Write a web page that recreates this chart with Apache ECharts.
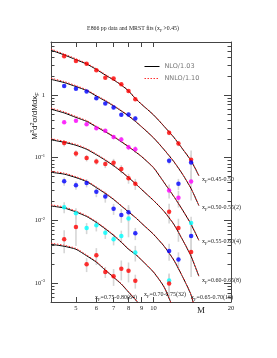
<!DOCTYPE html>
<html><head><meta charset="utf-8">
<script src="https://cdn.jsdelivr.net/npm/echarts@6/dist/echarts.min.js"></script>
<style>html,body{margin:0;padding:0;background:#fff}#c{width:277px;height:358px}</style>
</head><body><div id="c"></div>
<script>
// ---- data ----
const massBins = [4.5, 5.0, 5.5, 6.0, 6.5, 7.0, 7.5, 8.0, 8.5, 11.5, 12.5, 14.0];
const binLabels = ['0.45-0.50', '0.50-0.55(2)', '0.55-0.60(4)', '0.60-0.65(8)', '0.65-0.70(16)', '0.70-0.75(32)', '0.75-0.80(64)'];

const xsec045 = [4.16, 3.47, 3.14, 2.49, 1.88, 1.84, 1.48, 1.16, 0.855, 0.249, 0.169, 0.093];
const xsec050 = [1.39, 1.26, 1.14, 0.886, 0.733, 0.629, 0.482, 0.49, 0.421, 0.0896, 0.0383, 0.0842];
const xsec055 = [0.369, 0.389, 0.343, 0.296, 0.270, 0.214, 0.195, 0.147, 0.136, 0.0299, 0.0229, 0.0416];
const xsec060 = [0.171, 0.117, 0.0989, 0.0873, 0.0794, 0.0834, 0.0662, 0.0469, 0.0383, 0.0137, 0.0076, 0.00314];
const xsec065 = [0.042, 0.0363, 0.0396, 0.0286, 0.024, 0.0153, 0.0122, 0.0135, 0.00622, 0.00326, 0.00238, 0.00563];
const xsec070 = [0.01626, 0.01306, 0.00755, 0.00834, 0.00634, 0.00499, 0.00563, 0.01076, 0.00307, 0.0011, null, 0.00912];
const xsec075 = [0.00499, 0.00783, 0.002, 0.00278, 0.00151, 0.00129, 0.0017, 0.00158, 0.00109, 0.00099, null, null];

// relative uncertainties
const err045 = [0.03, 0.03, 0.03, 0.03, 0.03, 0.03, 0.04, 0.04, 0.05, 0.08, 0.1, 0.2];
const err050 = [0.04, 0.04, 0.04, 0.05, 0.05, 0.06, 0.07, 0.08, 0.09, 0.12, 0.2, 0.55];
const err055 = [0.06, 0.06, 0.06, 0.07, 0.07, 0.08, 0.1, 0.1, 0.12, 0.25, 0.3, 0.5];
const err060 = [0.12, 0.12, 0.12, 0.12, 0.14, 0.15, 0.15, 0.18, 0.2, 0.35, 0.4, 0.6];
const err065 = [0.15, 0.15, 0.15, 0.18, 0.2, 0.2, 0.25, 0.3, 0.22, 0.3, 0.3, 0.5];
const err070 = [0.2, 0.2, 0.2, 0.2, 0.2, 0.2, 0.22, 0.5, 0.28, 0.3, null, 0.25];
const err075 = [0.4, 0.5, 0.25, 0.3, 0.2, 0.3, 0.35, 0.35, 0.25, 0.4, null, null];

const theoryMass = [4, 4.5, 5, 5.5, 6, 6.5, 7, 7.5, 8, 8.5, 9, 10, 11, 12, 13, 14, 15];
const nlo045 = [5.18, 4.36, 3.66, 3.12, 2.56, 2.08, 1.74, 1.44, 1.16, 0.88, 0.707, 0.482, 0.316, 0.211, 0.136, 0.0896, 0.0518];
const nlo050 = [1.775, 1.579, 1.364, 1.179, 0.964, 0.803, 0.669, 0.557, 0.464, 0.380, 0.310, 0.208, 0.134, 0.0864, 0.0537, 0.0322, 0.0173];
const nlo055 = [0.593, 0.518, 0.439, 0.380, 0.310, 0.259, 0.216, 0.1795, 0.1496, 0.1245, 0.1037, 0.0694, 0.0401, 0.0240, 0.0144, 0.00864, 0.00482];
const nlo060 = [0.193, 0.176, 0.158, 0.1364, 0.1116, 0.0912, 0.0746, 0.0600, 0.0482, 0.0387, 0.0310, 0.0208, 0.0139, 0.00864, 0.00482, 0.00268, 0.00129];
const nlo065 = [0.0585, 0.0547, 0.0482, 0.0416, 0.0334, 0.0269, 0.0216, 0.0170, 0.01364, 0.01116, 0.00896, 0.0060, 0.00387, 0.00232, 0.00124, 0.000645, 0.00021];
const nlo070 = [0.0170, 0.01578, 0.01364, 0.01157, 0.00929, 0.00733, 0.00578, 0.00448, 0.00347, 0.00289, 0.00232, 0.0015, 0.000865, 0.000373];
const nlo075 = [0.00416, 0.00387, 0.00347, 0.00273, 0.00216, 0.00161, 0.00124, 0.000964, 0.00072, 0.000547, 0.000416];

const nnlo045 = [5.40, 4.52, 3.78, 3.21, 2.62, 2.13, 1.77, 1.46, 1.18, 0.89, 0.714, 0.486, 0.318, 0.212, 0.137, 0.090, 0.052];
const nnlo050 = [1.85, 1.64, 1.41, 1.215, 0.99, 0.822, 0.683, 0.567, 0.471, 0.385, 0.313, 0.210, 0.135, 0.087, 0.054, 0.0323, 0.0174];
const nnlo055 = [0.618, 0.538, 0.454, 0.391, 0.318, 0.265, 0.220, 0.1825, 0.1518, 0.1262, 0.105, 0.0701, 0.0404, 0.0242, 0.0145, 0.0087, 0.00485];
const nnlo060 = [0.201, 0.183, 0.163, 0.1403, 0.1145, 0.0933, 0.0761, 0.0611, 0.0490, 0.0393, 0.0314, 0.0210, 0.0140, 0.0087, 0.00485, 0.0027, 0.0013];
const nnlo065 = [0.0609, 0.0568, 0.0498, 0.0428, 0.0343, 0.0275, 0.0220, 0.0173, 0.01385, 0.0113, 0.00906, 0.00606, 0.0039, 0.00234, 0.00125, 0.00065, 0.00021];
const nnlo070 = [0.0177, 0.0164, 0.0141, 0.0119, 0.00954, 0.0075, 0.0059, 0.00456, 0.00353, 0.00293, 0.00235, 0.00152, 0.00087, 0.000376];
const nnlo075 = [0.00433, 0.00402, 0.00358, 0.00281, 0.00221, 0.00165, 0.00126, 0.00098, 0.00073, 0.000553, 0.00042];

const xTickValues = [5, 6, 7, 8, 9, 10, 20];
const xTickLabels = ['5', '6', '7', '8', '9', '10', '20'];
const yTickValues = [0.001, 0.01, 0.1, 1];
const yTickLabels = ['{b|10}{e|-3}', '{b|10}{e|-2}', '{b|10}{e|-1}', '{b|1}'];
const yMinorTicks = [0.0006, 0.0007, 0.0008, 0.0009, 0.002, 0.003, 0.004, 0.005, 0.006, 0.007, 0.008, 0.009,
  0.02, 0.03, 0.04, 0.05, 0.06, 0.07, 0.08, 0.09, 0.2, 0.3, 0.4, 0.5, 0.6, 0.7, 0.8, 0.9, 2, 3, 4, 5, 6, 7];

const SERIF = 'Liberation Serif';
const dataSets = [
  {v: xsec045, e: err045, nlo: nlo045, nnlo: nnlo045, color: '#ff0000'},
  {v: xsec050, e: err050, nlo: nlo050, nnlo: nnlo050, color: '#0000ff'},
  {v: xsec055, e: err055, nlo: nlo055, nnlo: nnlo055, color: '#ff00ff'},
  {v: xsec060, e: err060, nlo: nlo060, nnlo: nnlo060, color: '#ff0000'},
  {v: xsec065, e: err065, nlo: nlo065, nnlo: nnlo065, color: '#0000ff'},
  {v: xsec070, e: err070, nlo: nlo070, nnlo: nnlo070, color: '#00ffff'},
  {v: xsec075, e: err075, nlo: nlo075, nnlo: nnlo075, color: '#ff0000'}
];

const series = [];
// error bars
const errData = [];
dataSets.forEach(d => d.v.forEach((v, i) => {
  if (v == null) return;
  const f = d.e[i];
  errData.push([massBins[i], v, v * Math.max(1 - f, 0.02), v * (1 + f)]);
}));
series.push({
  type: 'custom', clip: true, z: 1,
  dimensions: ['m', 'v', 'lo', 'hi'], encode: {x: 0, y: 1},
  data: errData,
  renderItem: (params, api) => {
    const p1 = api.coord([api.value(0), api.value(3)]);
    const p2 = api.coord([api.value(0), api.value(2)]);
    return {type: 'line', shape: {x1: p1[0], y1: p1[1], x2: p2[0], y2: p2[1]},
      style: {stroke: '#d6d6d6', lineWidth: 1.6}};
  }
});
dataSets.forEach(d => {
  const curve = arr => arr.map((v, i) => [theoryMass[i], v]);
  series.push({type: 'line', name: 'NLO/1.03', data: curve(d.nlo), symbol: 'none', clip: true, z: 2,
    lineStyle: {color: '#000', width: 1}, itemStyle: {color: '#000'}, smooth: 0.2});
  series.push({type: 'line', name: 'NNLO/1.10', data: curve(d.nnlo), symbol: 'none', clip: true, z: 3,
    lineStyle: {color: '#ff3030', width: 1, type: [1.5, 1.5]}, itemStyle: {color: '#ff3030'}, smooth: 0.2});
});
dataSets.forEach(d => {
  series.push({type: 'scatter', data: d.v.map((v, i) => v == null ? null : [massBins[i], v]).filter(p => p),
    symbol: 'circle', symbolSize: 4.5, z: 5, itemStyle: {color: d.color}});
});

const sub = {fontSize: 4.5, fontFamily: SERIF, verticalAlign: 'bottom', lineHeight: 9, padding: [3, 0, 0, 0]};
const lab = (txt, x, y) => ({
  type: 'text', left: x, top: y,
  style: {text: '{a|x}{s|F}{a|=' + txt + '}', fill: '#222',
    rich: {a: {fontSize: 6, fontFamily: SERIF, fill: '#222', lineHeight: 9}, s: Object.assign({fill: '#222'}, sub)}}
});

const axisCol = '#444';
const option = {
  animation: false,
  backgroundColor: '#fff',
  grid: {left: 51, top: 42, right: 46, bottom: 56, containLabel: false},
  legend: {
    orient: 'vertical', left: 139, top: 58, itemWidth: 15, itemHeight: 8, itemGap: 5,
    data: ['NLO/1.03', 'NNLO/1.10'],
    itemStyle: {opacity: 0},
    lineStyle: {width: 1},
    textStyle: {fontFamily: 'DejaVu Sans', fontSize: 6.5, color: '#777'}
  },
  xAxis: [
    {type: 'log', logBase: 10, min: 4, max: 20, position: 'bottom',
      axisLine: {show: true, lineStyle: {color: axisCol, width: 1}},
      axisTick: {show: true, inside: true, length: 5, customValues: xTickValues, lineStyle: {color: axisCol}},
      axisLabel: {show: true, customValues: xTickValues, margin: 3, fontFamily: SERIF, fontSize: 6.5, color: '#222',
        formatter: v => xTickLabels[xTickValues.indexOf(Math.round(v))]},
      splitLine: {show: false}, minorTick: {show: false}},
    {type: 'log', logBase: 10, min: 4, max: 20, position: 'top',
      axisLine: {show: true, lineStyle: {color: axisCol, width: 1}},
      axisTick: {show: true, inside: true, length: 5, customValues: xTickValues, lineStyle: {color: axisCol}},
      axisLabel: {show: false}, splitLine: {show: false}}
  ],
  yAxis: [
    {type: 'log', logBase: 10, min: 0.0005, max: 7, position: 'left',
      axisLine: {show: true, lineStyle: {color: axisCol, width: 1}},
      axisTick: {show: true, inside: true, length: 7, customValues: yTickValues, lineStyle: {color: axisCol}},
      axisLabel: {show: true, customValues: yTickValues, margin: 6, color: '#222',
        formatter: v => yTickLabels[Math.round(Math.log10(v)) + 3],
        rich: {b: {fontFamily: SERIF, fontSize: 6.5, color: '#222'},
               e: {fontFamily: SERIF, fontSize: 4.5, color: '#222', verticalAlign: 'top', padding: [0, 0, 4, 0]}}},
      splitLine: {show: false}},
    {type: 'log', logBase: 10, min: 0.0005, max: 7, position: 'right',
      axisLine: {show: true, lineStyle: {color: axisCol, width: 1}},
      axisTick: {show: true, inside: true, length: 7, customValues: yTickValues, lineStyle: {color: axisCol}},
      axisLabel: {show: false}, splitLine: {show: false}},
    {type: 'log', logBase: 10, min: 0.0005, max: 7, position: 'left', axisLine: {show: false},
      axisTick: {show: true, inside: true, length: 3.5, customValues: yMinorTicks, lineStyle: {color: axisCol}},
      axisLabel: {show: false}, splitLine: {show: false}},
    {type: 'log', logBase: 10, min: 0.0005, max: 7, position: 'right', axisLine: {show: false},
      axisTick: {show: true, inside: true, length: 3.5, customValues: yMinorTicks, lineStyle: {color: axisCol}},
      axisLabel: {show: false}, splitLine: {show: false}}
  ],
  graphic: [
    {type: 'text', x: 133, y: 28,
      style: {text: '{a|E866 pp data and MRST fits (x}{s|F}{a| >0.45)}', align: 'center', verticalAlign: 'middle',
        rich: {a: {fontSize: 5.8, fontFamily: SERIF, fill: '#222', lineHeight: 9}, s: Object.assign({fill: '#222'}, sub, {fontSize: 4})}}},
    {type: 'text', x: 35, y: 116, rotation: Math.PI / 2,
      style: {text: '{a|M}{p|3}{a|d}{p|2}{a|σ/dMdx}{s|F}', align: 'center', verticalAlign: 'middle',
        rich: {a: {fontSize: 8, fontFamily: 'Liberation Sans', fill: '#222', lineHeight: 11},
               p: {fontSize: 5.5, fontFamily: 'Liberation Sans', fill: '#222', verticalAlign: 'top', lineHeight: 11, padding: [0, 0, 3, 0]},
               s: {fontSize: 5.5, fontFamily: 'Liberation Sans', fill: '#222', verticalAlign: 'bottom', lineHeight: 11, padding: [3, 0, 0, 0]}}}},
    {type: 'text', left: 197, top: 306, style: {text: 'M', fontSize: 9, fontFamily: SERIF, fill: '#222'}},
    lab(binLabels[0], 202, 176),
    lab(binLabels[1], 202, 204),
    lab(binLabels[2], 202, 238),
    lab(binLabels[3], 202, 277),
    lab(binLabels[4], 191, 294),
    lab(binLabels[5], 144, 291),
    lab(binLabels[6], 95, 294)
  ],
  series: series
};
const chart = echarts.init(document.getElementById('c'), null, {renderer: 'canvas'});
chart.setOption(option);
</script>
</body></html>
